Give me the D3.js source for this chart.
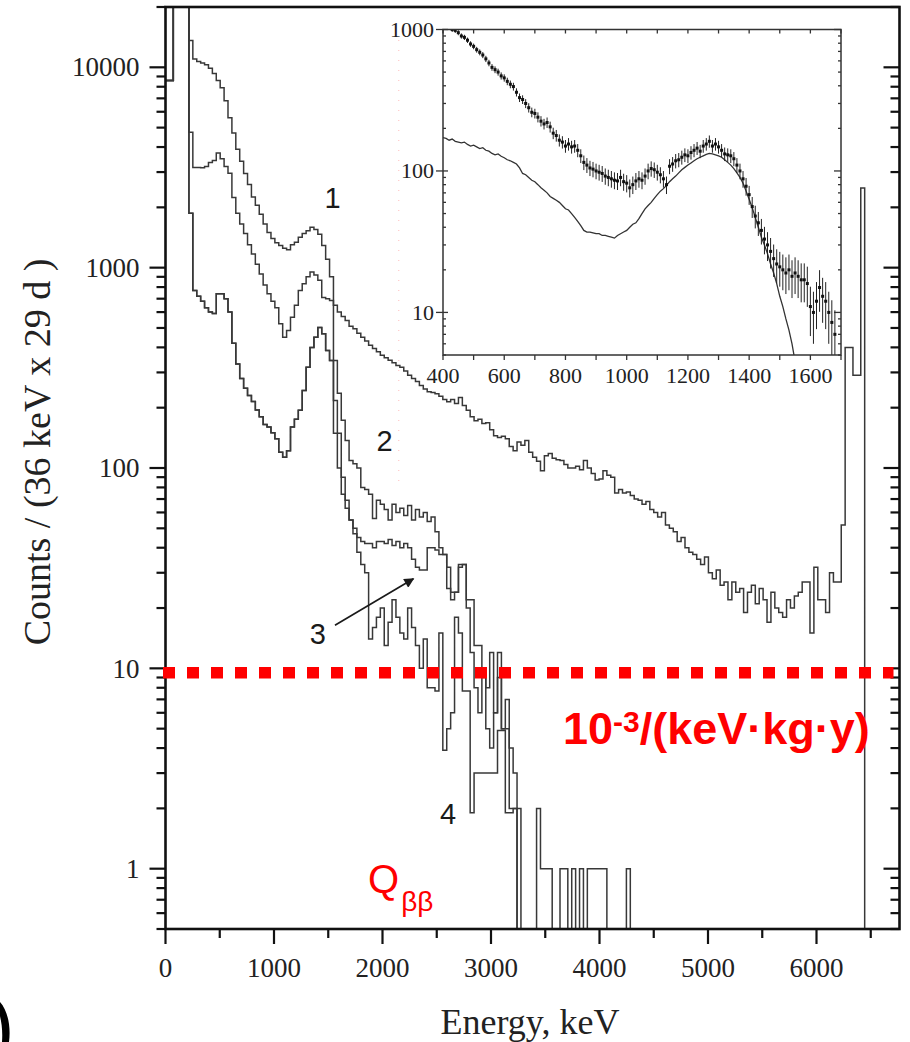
<!DOCTYPE html>
<html><head><meta charset="utf-8">
<script src="https://cdn.jsdelivr.net/npm/d3@7"></script>
<style>body{margin:0;background:#fff;} svg{display:block}</style>
</head><body><svg id="chart" width="910" height="1042"></svg>
<script>
// ---- Spectra: counts per 36 keV bin (29 d) ----
const binWidth = 36;
const lowEnergyBins = [8600, 8600, 60000, 60000, 60000, 60000]; // 0–216 keV

const spectrum1 = [
 13600,11000,10700,10500,10300,9900,9300,8600,7900,6800,
 5600,4700,3900,3400,2950,2600,2250,2050,1850,1650,
 1500,1400,1330,1290,1250,1230,1300,1340,1420,1480,
 1530,1590,1550,1470,1290,1100,900,650,600,570,
 545,510,495,470,450,430,410,395,380,365,
 355,345,335,325,318,305,290,280,270,258,
 248,240,238,235,228,220,214,220,210,225,
 205,194,180,172,175,167,168,155,145,142,
 144,140,128,122,135,130,137,120,113,108,
 97,115,118,112,110,109,104,100,100,102,
 98,109,100,94,87,88,97,92,90,75,
 78,75,76,73,70,69,66,68,62,60,
 57,60,52,50,48,43,45,40,38,37,
 35,33,36,30,28,31,26,27,22,27,
 24,25,19,24,26,21,25,22,17,24,
 20,19,18,22,20,23,24,27,27,15,
 32,22,22,19,30,27,27,52,400,400,
 290,290,2500,0
];
const spectrum2 = [
 4740,3160,3160,3150,3200,3350,3430,3730,3500,3200,
 2960,2240,1870,1650,1480,1300,1170,1040,930,820,
 740,680,630,525,449,485,565,650,770,830,
 900,950,920,865,710,700,686,344,236,173,
 137,109,105,100,80,78,74,56,69,66,
 62,55,66,60,63,58,65,55,62,57,
 60,54,57,48,40,37,32,24,24,33,
 33,22,22,13,13,10,8,12,6,9,
 5,7,4,3,2,0
];
const spectrum3 = [
 1870,770,720,680,630,600,590,740,740,700,
 600,420,330,280,250,230,215,195,180,165,
 160,150,140,120,113,122,160,175,194,244,
 318,400,449,503,468,386,344,217,149,90,
 63,55,50,45,43,42,42,40,43,43,
 42,44,41,43,40,42,40,35,32,31,
 31,40,40,39,37,37,25,22,24,32,
 33,20,12,8,6,9,5,4,6,12,
 5,5,2,2,0
];
const spectrum4 = [
 1870,770,720,680,630,600,590,740,740,700,
 600,420,330,280,250,230,215,195,180,165,
 160,150,140,120,113,122,160,175,194,244,
 318,400,449,503,468,386,344,149,100,74,
 69,55,47,38,33,30,14,16,18,20,
 13,17,22,18,15,14,20,16,13,10,
 14,8,8,7.7,15,3.9,5,6,18,15,
 7.7,7.7,1.9,3,3,3,3,3,3,4.9,
 4.9,1.9,1.9,2,0,0,0,0,0,2,
 1,1,1,0,0,1,1,0,1,0,
 1,0,1,1,1,1,1,0,0,0,
 0,0,1,0
];

// ---- Axis ticks ----
const xTickValues = [0, 1000, 2000, 3000, 4000, 5000, 6000];
const xMinorTicks = [500, 1500, 2500, 3500, 4500, 5500, 6500];
const yTickValues = [1, 10, 100, 1000, 10000];
const yTickLabels = ["1", "10", "100", "1000", "10000"];

// ---- Annotations ----
const thresholdCounts = 9.5;        // 10^-3 /(keV·kg·y) level
const qbbEnergy = 2150;             // faint marker line
const curveLabels = [
  {text: "1", e: 1540, v: 1980},
  {text: "2", e: 2020, v: 122},
  {text: "3", e: 1405, v: 13.3},
  {text: "4", e: 2605, v: 1.68}
];
const arrowFrom = {e: 1562, v: 16.4};
const arrowTo = {e: 2285, v: 28};

// ---- Inset: 400–1700 keV detail ----
const insetDataEnergy0 = 420, insetStep = 10;
const insetData = [
 1060,1000,985,950,900,880,840,790,760,720,
 690,660,620,580,540,520,500,470,455,430,
 410,395,360,330,320,300,280,260,255,240,
 225,215,220,205,185,178,165,160,150,155,
 148,150,140,128,115,110,105,103,100,98,
 96,92,90,88,86,85,90,84,82,76,
 80,85,88,86,92,100,104,102,98,94,
 88,80,108,112,118,120,125,130,128,135,
 140,145,138,150,155,162,150,155,148,140,
 132,130,128,122,110,100,88,78,68,56,
 48,43,38,33,30,27,24,22,21,20,
 19,20,18,19,18,17,17,16,11,10,
 12,15,13,12,10,8.5,7
];
const insetModelEnergy0 = 400;
const insetModel = [
 172,170,165,168,162,160,158,160,154,150,
 152,148,144,146,140,138,133,130,132,127,
 124,120,118,115,112,105,96,94,90,86,
 84,80,76,73,70,66,64,62,60,57,
 54,53,50,47,44,41,38,37,37,36.5,
 36,36,35,35,34.5,34,33.5,35,36,37,
 38,40,42,43,46,50,54,57,60,64,
 68,72,75,79,84,88,92,97,102,106,
 110,114,118,122,125,128,131,133,132,130,
 128,125,120,115,110,104,97,90,82,72,
 63,55,47,40,34,30,26,22,19,16,
 13,11,9,7.5,6,4.5
];
const insetXTicks = [400, 600, 800, 1000, 1200, 1400, 1600];
const insetXMinor = [500, 700, 900, 1100, 1300, 1500, 1700];
const insetYTicks = [10, 100, 1000];

// ---- Layout ----
const svg = d3.select("#chart");
const W = 910, H = 1042;
const frame = {left: 165.5, right: 899.5, top: 7, bottom: 929};

const x = d3.scaleLinear().domain([0, 6765]).range([frame.left, frame.right]);
const y = d3.scaleLog().domain([0.5, 20000]).range([frame.bottom, frame.top]);

svg.append("rect").attr("width", W).attr("height", H).attr("fill", "#fff");

svg.append("clipPath").attr("id", "plotClip")
  .append("rect").attr("x", frame.left).attr("y", frame.top)
  .attr("width", frame.right - frame.left).attr("height", frame.bottom - frame.top);

const serif = "'Liberation Serif','Times New Roman',serif";
const sans = "'Liberation Sans',Arial,sans-serif";

// step outline of one histogram
function histPath(values, start, xs, ys, floor) {
  const pts = values.map((v, i) => [start + i * binWidth, v]);
  pts.push([start + values.length * binWidth, values[values.length - 1]]);
  return d3.line().curve(d3.curveStepAfter)
    .x(d => xs(d[0])).y(d => ys(Math.max(d[1], floor)))(pts);
}

const plot = svg.append("g").attr("clip-path", "url(#plotClip)");

// faint dotted marker
plot.append("line")
  .attr("x1", x(qbbEnergy)).attr("x2", x(qbbEnergy))
  .attr("y1", 40).attr("y2", 490)
  .attr("stroke", "#ff6a6a").attr("stroke-opacity", 0.45)
  .attr("stroke-width", 1).attr("stroke-dasharray", "1,9");

[spectrum4, spectrum3, spectrum2, spectrum1].forEach(s => {
  const full = lowEnergyBins.concat(s);
  plot.append("path")
    .attr("d", histPath(full, 0, x, y, 0.05))
    .attr("fill", "none").attr("stroke", "#383838")
    .attr("stroke-width", 1.5).attr("stroke-linejoin", "miter");
});

// ---- Axes frame & ticks ----
const axisCol = "#111";
svg.append("rect")
  .attr("x", frame.left).attr("y", frame.top)
  .attr("width", frame.right - frame.left).attr("height", frame.bottom - frame.top)
  .attr("fill", "none").attr("stroke", axisCol).attr("stroke-width", 2.6);

const yMinor = [];
[0.1, 1, 10, 100, 1000, 10000].forEach(d => {
  for (let k = 2; k <= 9; k++) {
    const v = d * k;
    if (v >= 0.5 && v <= 20000 && !yTickValues.includes(v)) yMinor.push(v);
  }
});

const tickG = svg.append("g").attr("stroke", axisCol).attr("stroke-width", 2.2);
yTickValues.forEach(v => {
  tickG.append("line").attr("x1", frame.left - 16).attr("x2", frame.left).attr("y1", y(v)).attr("y2", y(v));
  tickG.append("line").attr("x1", frame.right - 16).attr("x2", frame.right).attr("y1", y(v)).attr("y2", y(v));
});
yMinor.forEach(v => {
  tickG.append("line").attr("x1", frame.left - 9).attr("x2", frame.left).attr("y1", y(v)).attr("y2", y(v));
  tickG.append("line").attr("x1", frame.right - 9).attr("x2", frame.right).attr("y1", y(v)).attr("y2", y(v));
});
xTickValues.forEach(v => {
  tickG.append("line").attr("x1", x(v)).attr("x2", x(v)).attr("y1", frame.bottom).attr("y2", frame.bottom + 15);
});
xMinorTicks.forEach(v => {
  tickG.append("line").attr("x1", x(v)).attr("x2", x(v)).attr("y1", frame.bottom).attr("y2", frame.bottom + 9);
});

const labelCol = "#222";
svg.append("g").selectAll("text").data(yTickValues).join("text")
  .attr("x", frame.left - 26).attr("y", v => y(v)).attr("dy", "0.34em")
  .attr("text-anchor", "end").attr("font-family", serif).attr("font-size", 27)
  .attr("fill", labelCol).text((v, i) => yTickLabels[i]);

svg.append("g").selectAll("text").data(xTickValues).join("text")
  .attr("x", v => x(v)).attr("y", 977)
  .attr("text-anchor", "middle").attr("font-family", serif).attr("font-size", 27)
  .attr("fill", labelCol).text(v => String(v));

svg.append("text").attr("x", 530).attr("y", 1034)
  .attr("text-anchor", "middle").attr("font-family", serif).attr("font-size", 36)
  .attr("fill", labelCol).text("Energy, keV");

svg.append("text")
  .attr("transform", "translate(50,452) rotate(-90)")
  .attr("text-anchor", "middle").attr("font-family", serif).attr("font-size", 38)
  .attr("fill", labelCol).text("Counts / (36 keV x 29 d )");

// ---- Curve labels & arrow ----
svg.append("g").selectAll("text").data(curveLabels).join("text")
  .attr("x", d => x(d.e)).attr("y", d => y(d.v))
  .attr("text-anchor", "middle").attr("font-family", sans).attr("font-size", 29)
  .attr("fill", "#1a1a1a").text(d => d.text);

const defs = svg.append("defs");
defs.append("marker").attr("id", "arrowHead")
  .attr("viewBox", "0 0 10 10").attr("refX", 9).attr("refY", 5)
  .attr("markerWidth", 15).attr("markerHeight", 10).attr("orient", "auto")
  .attr("markerUnits", "userSpaceOnUse")
  .append("path").attr("d", "M0,0 L10,5 L0,10 Z").attr("fill", "#1a1a1a");

svg.append("line")
  .attr("x1", x(arrowFrom.e)).attr("y1", y(arrowFrom.v))
  .attr("x2", x(arrowTo.e)).attr("y2", y(arrowTo.v))
  .attr("stroke", "#1a1a1a").attr("stroke-width", 1.7)
  .attr("marker-end", "url(#arrowHead)");

// ---- Red threshold line and labels ----
svg.append("line")
  .attr("x1", frame.left - 2.5).attr("x2", frame.right - 6)
  .attr("y1", y(thresholdCounts)).attr("y2", y(thresholdCounts))
  .attr("stroke", "#ff0000").attr("stroke-width", 11.5)
  .attr("stroke-dasharray", "12,12");

const red = svg.append("text").attr("x", 563).attr("y", 744)
  .attr("font-family", sans).attr("font-weight", "bold").attr("font-size", 45)
  .attr("fill", "#ff0000");
red.append("tspan").text("10");
red.append("tspan").attr("font-size", 30).attr("dy", -12).text("-3");
red.append("tspan").attr("dy", 12).text("/(keV·kg·y)");

const q = svg.append("text").attr("x", 368).attr("y", 893)
  .attr("font-family", sans).attr("font-size", 40).attr("fill", "#ff0000");
q.append("tspan").text("Q");
q.append("tspan").attr("font-size", 28).attr("dy", 18).attr("dx", 2).text("ββ");

// ---- Inset ----
const inset = {left: 443, right: 841, top: 29.5, bottom: 355};
const xi = d3.scaleLinear().domain([400, 1700]).range([inset.left, inset.right]);
const yi = d3.scaleLog().domain([5, 1000]).range([inset.bottom, inset.top]);

svg.append("clipPath").attr("id", "insetClip")
  .append("rect").attr("x", inset.left).attr("y", inset.top)
  .attr("width", inset.right - inset.left).attr("height", inset.bottom - inset.top);

const ig = svg.append("g");
const icl = ig.append("g").attr("clip-path", "url(#insetClip)");

// model spectrum
icl.append("path")
  .attr("d", d3.line().x((d, i) => xi(insetModelEnergy0 + i * insetStep))
    .y(d => yi(Math.max(d, 1)))(insetModel))
  .attr("fill", "none").attr("stroke", "#333").attr("stroke-width", 1.3);

// measured points with Poisson error bars
const pts = insetData.map((v, i) => ({e: insetDataEnergy0 + i * insetStep, v}));
icl.append("g").selectAll("line").data(pts).join("line")
  .attr("x1", d => xi(d.e)).attr("x2", d => xi(d.e))
  .attr("y1", d => yi(d.v + Math.sqrt(1.6 * d.v)))
  .attr("y2", d => yi(Math.max(d.v - Math.sqrt(1.6 * d.v), 1)))
  .attr("stroke", "#222").attr("stroke-width", 1);
icl.append("g").selectAll("rect").data(pts).join("rect")
  .attr("x", d => xi(d.e) - 1.5).attr("y", d => yi(d.v) - 1.5)
  .attr("width", 3).attr("height", 3).attr("fill", "#111");

ig.append("rect")
  .attr("x", inset.left).attr("y", inset.top)
  .attr("width", inset.right - inset.left).attr("height", inset.bottom - inset.top)
  .attr("fill", "none").attr("stroke", "#333").attr("stroke-width", 1.5);

const iyMinor = [];
[1, 10, 100].forEach(d => {
  for (let k = 2; k <= 9; k++) { const v = d * k; if (v >= 5 && v <= 1000) iyMinor.push(v); }
});
const itk = ig.append("g").attr("stroke", "#333").attr("stroke-width", 1.3);
insetYTicks.forEach(v => {
  itk.append("line").attr("x1", inset.left - 7).attr("x2", inset.left + 5).attr("y1", yi(v)).attr("y2", yi(v));
  itk.append("line").attr("x1", inset.right - 7).attr("x2", inset.right).attr("y1", yi(v)).attr("y2", yi(v));
});
iyMinor.forEach(v => {
  itk.append("line").attr("x1", inset.left).attr("x2", inset.left + 3).attr("y1", yi(v)).attr("y2", yi(v));
  itk.append("line").attr("x1", inset.right - 3).attr("x2", inset.right).attr("y1", yi(v)).attr("y2", yi(v));
});
insetXTicks.concat(insetXMinor).forEach(v => {
  if (v > 1700) return;
  itk.append("line").attr("x1", xi(v)).attr("x2", xi(v)).attr("y1", inset.bottom).attr("y2", inset.bottom + 5);
  itk.append("line").attr("x1", xi(v)).attr("x2", xi(v)).attr("y1", inset.top).attr("y2", inset.top + 4);
});

ig.append("g").selectAll("text").data(insetYTicks).join("text")
  .attr("x", inset.left - 9).attr("y", v => yi(v)).attr("dy", "0.34em")
  .attr("text-anchor", "end").attr("font-family", serif).attr("font-size", 22)
  .attr("fill", labelCol).text(v => String(v));
ig.append("g").selectAll("text").data(insetXTicks).join("text")
  .attr("x", v => xi(v)).attr("y", 383)
  .attr("text-anchor", "middle").attr("font-family", serif).attr("font-size", 22)
  .attr("fill", labelCol).text(v => String(v));

// bracket fragment at the page corner
svg.append("path")
  .attr("d", "M-1,1001 C8,1010 11,1027 9,1042 L2,1042 C3,1029 1,1016 -3,1008 Z")
  .attr("fill", "#000");
</script></body></html>
